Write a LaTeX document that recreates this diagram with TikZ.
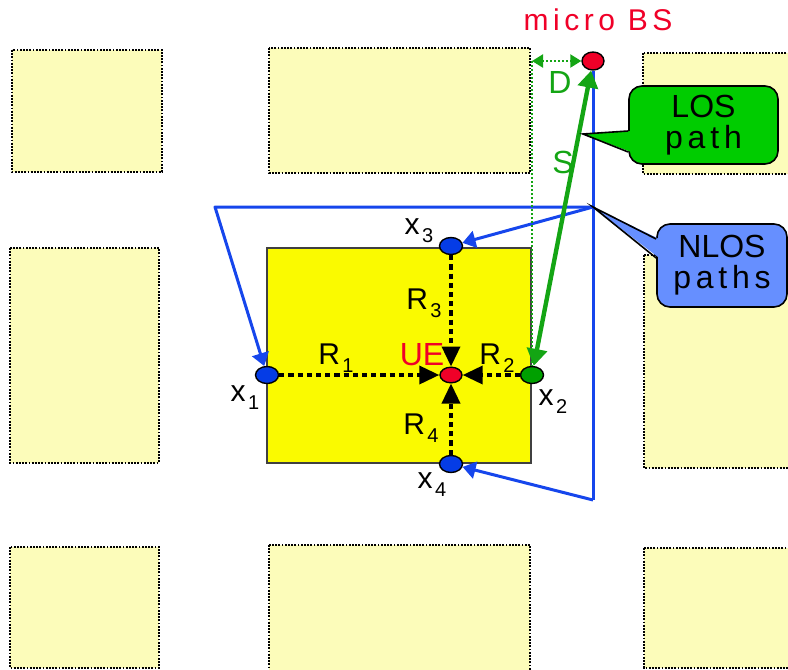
\documentclass[tikz,border=0pt]{standalone}
\usepackage{fontspec}
\setmainfont{Liberation Sans}
\newfontfamily\spacedfont[LetterSpace=15]{Liberation Sans}
\usetikzlibrary{shapes.geometric, arrows.meta, positioning, calc}
\definecolor{bldyellow}{RGB}{252,252,186}
\definecolor{ueyellow}{RGB}{250,250,0}
\definecolor{losgreen}{RGB}{0,204,0}
\definecolor{pathgreen}{RGB}{20,165,20}
\definecolor{dotgreen}{RGB}{0,160,0}
\definecolor{nlosblue}{RGB}{102,143,255}
\definecolor{pathblue}{RGB}{22,70,236}
\definecolor{dotblue}{RGB}{5,60,230}
\definecolor{bsred}{RGB}{240,0,40}
\newcommand{\lowidx}[1]{\kern1.2pt\raisebox{-4pt}{\fontsize{10}{11}\selectfont #1}}

\begin{document}
\begin{tikzpicture}[x=0.5pt, y=-0.5pt,
  building/.style={fill=bldyellow, draw=black, line width=1.1pt, dash pattern=on 0.9pt off 0.7pt},
  terminal/.style={ellipse, draw=black, line width=0.7pt, minimum width=11.5pt, minimum height=8.5pt, inner sep=0pt},
  ray/.style={line width=1.8pt, dash pattern=on 2.6pt off 2pt, -{Triangle[length=10pt, width=9pt]}},
  nlos/.style={draw=pathblue, line width=1.5pt, line join=round},
  lbl/.style={inner sep=0pt, font=\fontsize{15}{17}\selectfont},
  callout/.style={rounded corners=6.5pt, draw=black, line width=0.8pt, align=center, inner sep=0pt, font=\fontsize{16}{15.5}\selectfont}]

  \clip (0,0) rectangle (788,670);

  % street blocks
  \foreach \xa/\ya/\xb/\yb in {12/50/162/172, 269/48/530/173, 643/53/800/174,
      10/248/159/463, 644/255/800/468, 10/547/159/668, 269/545/530/680, 644/548/800/668}
    \draw[building] (\xa,\ya) rectangle (\xb,\yb);
  \draw[fill=ueyellow, draw=black!75, line width=0.9pt] (267,248) rectangle (531,463);

  % terminals
  \node[terminal, fill=bsred, minimum width=11pt, minimum height=9pt] (bs) at (593,61) {};
  \node[terminal, fill=bsred, minimum width=11pt, minimum height=7.8pt] (ue) at (451,375) {};
  \node[terminal, fill=dotblue] (x1) at (267,375) {};
  \node[terminal, fill=dotgreen] (x2) at (532,375) {};
  \node[terminal, fill=dotblue] (x3) at (451,246) {};
  \node[terminal, fill=dotblue] (x4) at (451,464) {};

  % reflection points
  \coordinate (refl top) at (bs |- 0,207);
  \coordinate (refl left) at (215,207);
  \coordinate (refl low) at (bs |- 0,500);
  \coordinate (d end) at (x2 |- bs);

  % NLOS paths
  \draw[nlos] (bs) -- (refl low);
  \draw[nlos, -{Triangle[length=6.5pt, width=8.5pt]}] (refl top) -- (refl left) -- (x1);
  \draw[nlos, -{Triangle[length=6.5pt, width=8.5pt]}] (refl top) -- (x3);
  \draw[nlos, -{Triangle[length=6.5pt, width=8.5pt]}] (refl low) -- (x4);

  % LOS path
  \draw[pathgreen, line width=2.2pt, {Triangle[length=8.5pt, width=10pt]}-{Triangle[length=8.5pt, width=10pt]}] (bs) -- (x2);
  \draw[pathgreen, line width=1.1pt, dash pattern=on 1pt off 1pt, {Triangle[length=5.5pt, width=6.5pt]}-{Triangle[length=5.5pt, width=6.5pt]}] (d end) -- (bs);
  \draw[pathgreen, line width=0.7pt, dash pattern=on 1pt off 1pt] (d end) -- (x2);

  % rays towards the UE
  \draw[ray] (x1) -- (ue);
  \draw[ray] (x2) -- (ue);
  \draw[ray] (x3) -- (ue);
  \draw[ray] (x4) -- (ue);

  % labels
  \node[lbl, text=bsred, font=\spacedfont\fontsize{15}{17}\selectfont] (bs label) at (598,20) {micro BS};
  \node[lbl, text=pathgreen, font=\fontsize{16}{18}\selectfont] (d label) at (560,82) {D};
  \node[lbl, text=pathgreen, font=\fontsize{16}{18}\selectfont] (s label) at (563,162) {S};
  \node[lbl, text=bsred, font=\fontsize{16}{18}\selectfont] (ue label) at (422,355) {UE};
  \node[lbl] (x1 label) at (245,398) {x\lowidx{1}};
  \node[lbl] (x2 label) at (553,402) {x\lowidx{2}};
  \node[lbl] (x3 label) at (419,231) {x\lowidx{3}};
  \node[lbl] (x4 label) at (432,485) {x\lowidx{4}};
  \node[lbl] (r1 label) at (336,358) {R\lowidx{1}};
  \node[lbl] (r2 label) at (497,358) {R\lowidx{2}};
  \node[lbl] (r3 label) at (424,303) {R\lowidx{3}};
  \node[lbl] (r4 label) at (421,428) {R\lowidx{4}};

  % callouts
  \node[callout, fill=losgreen, minimum width=74.5pt, minimum height=39pt] (los box) at (703.5,125) {LOS\\{\spacedfont path}};
  \coordinate (los tip) at (583,134);
  \fill[losgreen] (los tip) -- ($(los box.west)+(3,6)$) -- ($(los box.west)+(3,27)$) -- cycle;
  \draw[line width=0.8pt] ($(los box.west)+(0,6)$) -- (los tip) -- ($(los box.west)+(0,27)$);

  \node[callout, fill=nlosblue, minimum width=65pt, minimum height=41.5pt] (nlos box) at (722,265.5) {NLOS\\{\spacedfont paths}};
  \fill[nlosblue] (refl top) -- ($(nlos box.west)+(3,-26.5)$) -- ($(nlos box.west)+(3,-7.5)$) -- cycle;
  \draw[line width=0.8pt] ($(nlos box.west)+(0,-26.5)$) -- (refl top) -- ($(nlos box.west)+(0,-7.5)$);
\end{tikzpicture}
\end{document}
